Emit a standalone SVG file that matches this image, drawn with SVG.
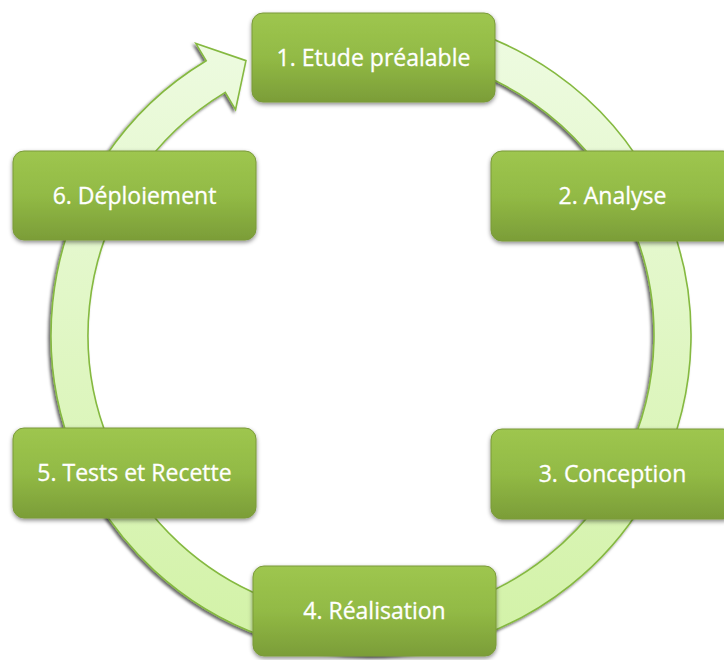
<svg xmlns="http://www.w3.org/2000/svg" width="724" height="660" viewBox="0 0 724 660">
  <defs>
    <linearGradient id="boxGrad" x1="0" y1="0" x2="0" y2="1">
      <stop offset="0" stop-color="#9ec64f"/>
      <stop offset="0.5" stop-color="#92ba45"/>
      <stop offset="1" stop-color="#7b9d38"/>
    </linearGradient>
    <linearGradient id="ringGrad" x1="0" y1="0" x2="0" y2="1">
      <stop offset="0" stop-color="#eefbe2"/>
      <stop offset="1" stop-color="#d2f2a6"/>
    </linearGradient>
    <filter id="boxShadow" x="-10%" y="-15%" width="120%" height="135%">
      <feDropShadow dx="0" dy="2" stdDeviation="2" flood-color="#000" flood-opacity="0.45"/>
    </filter>
    <filter id="ringShadow" x="-10%" y="-10%" width="120%" height="120%">
      <feDropShadow dx="-2" dy="2" stdDeviation="1.5" flood-color="#000" flood-opacity="0.6"/>
    </filter>
  </defs>
  <style>
    .box { fill: url(#boxGrad); stroke: #7a9a3a; stroke-width: 1; filter: url(#boxShadow); }
    .label { font-family: "Open Sans", "Liberation Sans", sans-serif; font-size: 23px; fill: #ffffff; text-anchor: middle; stroke: #ffffff; stroke-width: 0.3; }
    .ring { fill: url(#ringGrad); stroke: #85b940; stroke-width: 1.6; stroke-linejoin: miter; filter: url(#ringShadow); }
  </style>
  <rect width="724" height="660" fill="#ffffff"/>
  <g id="connectors">
    <path class="ring" d="M 426.57 19.86 A 320 320 0 1 1 206.19 60.71 L 195.89 43.56 L 245.97 60.65 L 235.54 109.56 L 225.24 92.42 A 283 283 0 1 0 420.14 56.30 Z"/>
  </g>
  <g id="node1">
    <rect class="box" x="252" y="13" width="243" height="89" rx="11"/>
    <text class="label" x="373.5" y="66">1. Etude préalable</text>
  </g>
  <g id="node2">
    <rect class="box" x="491" y="151" width="243" height="90" rx="11"/>
    <text class="label" x="612.5" y="204">2. Analyse</text>
  </g>
  <g id="node3">
    <rect class="box" x="491" y="429" width="243" height="90" rx="11"/>
    <text class="label" x="612.5" y="482">3. Conception</text>
  </g>
  <g id="node4">
    <rect class="box" x="253" y="566" width="243" height="90" rx="11"/>
    <text class="label" x="374.5" y="619">4. Réalisation</text>
  </g>
  <g id="node5">
    <rect class="box" x="13" y="428" width="243" height="90" rx="11"/>
    <text class="label" x="134.5" y="481">5. Tests et Recette</text>
  </g>
  <g id="node6">
    <rect class="box" x="13" y="151" width="243" height="89" rx="11"/>
    <text class="label" x="134.5" y="204">6. Déploiement</text>
  </g>
</svg>
